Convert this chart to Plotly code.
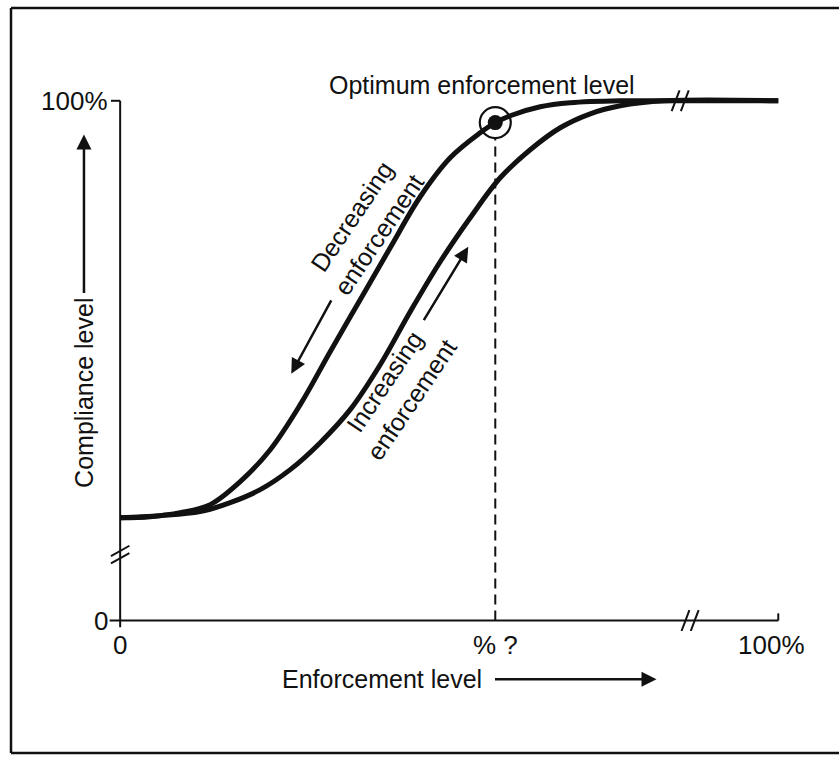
import plotly.graph_objects as go

# ---------------- data ----------------
# Decreasing-enforcement curve (upper)
upper_x = [0.0, 4.56, 9.12, 13.68, 18.24, 22.80, 27.36, 31.91, 36.47, 41.03, 45.59, 50.15, 54.71,
           57.0, 59.27, 63.83, 68.39, 75.99, 82.07, 100.0]
upper_y = [19.81, 20.0, 20.77, 22.31, 26.73, 32.88, 41.54, 51.73, 61.73, 71.73, 81.54, 89.04, 93.85,
           95.8, 97.12, 98.85, 99.62, 100.0, 100.0, 100.0]
# Increasing-enforcement curve (lower)
lower_x = [0.0, 6.08, 12.16, 16.72, 21.28, 25.84, 30.40, 34.95, 39.51, 44.07, 48.63, 53.19, 57.75,
           62.31, 66.87, 71.43, 75.99, 82.83, 100.0]
lower_y = [19.81, 20.19, 20.96, 22.69, 25.19, 29.04, 34.23, 40.58, 49.23, 59.42, 69.04, 77.50, 85.19,
           90.58, 94.81, 97.50, 99.04, 100.0, 100.0]

optimum_x = 57.0
optimum_y = 95.8

x_tick_vals = [0, optimum_x, 99]
x_tick_text = ["0", "% ?", "100%"]
y_tick_vals = [0, 100]
y_tick_text = ["0", "100%"]

y_break = 12.7
x_break = 86.6
top_break = 85.1

FONT = "Liberation Sans, Arial, Helvetica, sans-serif"
INK = "#111111"

# plot-area geometry
W, H = 839, 758
ML, MR, MT, MB = 107, 41, 80, 127
XR = [-2, 103]
YR = [-2, 104]
PW = W - ML - MR
PH = H - MT - MB


def dp(x, y):
    """data -> paper coordinates (for marks placed outside the axis ranges)"""
    return (x - XR[0]) / (XR[1] - XR[0]), (y - YR[0]) / (YR[1] - YR[0])


def px_to_paper(px, py):
    return (px - ML) / PW, (H - MB - py) / PH


fig = go.Figure()

curve_line = dict(color=INK, width=5, shape="spline", smoothing=1.0)
fig.add_trace(go.Scatter(x=upper_x, y=upper_y, mode="lines", line=curve_line,
                         hoverinfo="skip", cliponaxis=False))
fig.add_trace(go.Scatter(x=lower_x, y=lower_y, mode="lines", line=curve_line,
                         hoverinfo="skip", cliponaxis=False))

# dashed drop line from the optimum
fig.add_trace(go.Scatter(x=[optimum_x, optimum_x], y=[0, optimum_y - 3.0], mode="lines",
                         line=dict(color=INK, width=2, dash="10px,6px"), hoverinfo="skip"))

# optimum marker
fig.add_trace(go.Scatter(x=[optimum_x], y=[optimum_y], mode="markers",
                         marker=dict(symbol="circle", size=15, color=INK), hoverinfo="skip",
                         cliponaxis=False))
fig.add_trace(go.Scatter(x=[optimum_x], y=[optimum_y], mode="markers",
                         marker=dict(symbol="circle-open", size=31, color=INK, line=dict(width=2.2)),
                         hoverinfo="skip", cliponaxis=False))

shapes = []
ax_line = dict(color=INK, width=2)
# axes
shapes.append(dict(type="line", xref="x", yref="y", x0=0, y0=-1.3, x1=0, y1=100, line=ax_line))
shapes.append(dict(type="line", xref="x", yref="y", x0=-1.6, y0=0, x1=100, y1=0, line=ax_line))
# tick at the top of the y axis
shapes.append(dict(type="line", xref="x", yref="y", x0=-1.4, y0=100, x1=0, y1=100, line=ax_line))
# small upward end tick on the x axis
shapes.append(dict(type="line", xref="x", yref="y", x0=100, y0=0, x1=100, y1=1.4, line=ax_line))

# break marks
for off in (-0.7, 0.7):
    shapes.append(dict(type="line", xref="x", yref="y",
                       x0=-1.4, y0=y_break + off - 1.0, x1=1.4, y1=y_break + off + 1.0, line=ax_line))
for bx, by in ((x_break, 0), (top_break, 100)):
    for off in (-0.7, 0.7):
        shapes.append(dict(type="line", xref="x", yref="y",
                           x0=bx + off - 0.6, y0=by - 2.0, x1=bx + off + 0.6, y1=by + 2.0,
                           line=ax_line))

# outer frame of the scanned figure (left, top, bottom edges; right edge is cropped away)
fx0, fy0 = px_to_paper(11, 753)
fx1, fy1 = px_to_paper(900, 8)
frame_line = dict(color=INK, width=2.5)
shapes.append(dict(type="line", xref="paper", yref="paper", x0=fx0, y0=fy0, x1=fx0, y1=fy1, line=frame_line))
shapes.append(dict(type="line", xref="paper", yref="paper", x0=fx0, y0=fy1, x1=fx1, y1=fy1, line=frame_line))
shapes.append(dict(type="line", xref="paper", yref="paper", x0=fx0, y0=fy0, x1=fx1, y1=fy0, line=frame_line))

annotations = []
tf = dict(family=FONT, size=26, color=INK)
for v, t in zip(x_tick_vals, x_tick_text):
    px, py = dp(v, -4.6)
    annotations.append(dict(x=px, y=py, xref="paper", yref="paper", text=t, showarrow=False,
                            xanchor="center", yanchor="middle", font=tf))
for v, t in zip(y_tick_vals, y_tick_text):
    px, py = dp(-1.5, v)
    annotations.append(dict(x=px, y=py, xref="paper", yref="paper", text=t, showarrow=False,
                            xanchor="right", yanchor="middle", font=tf))

lf = dict(family=FONT, size=25, color=INK)
arrow_style = dict(text="", showarrow=True, arrowhead=2, arrowsize=1.2, arrowwidth=2.5,
                   arrowcolor=INK, xref="paper", yref="paper", axref="pixel", ayref="pixel")

# x axis title + arrow
tx, ty = dp(39.8, -11.3)
annotations.append(dict(x=tx, y=ty, xref="paper", yref="paper", text="Enforcement level",
                        showarrow=False, xanchor="center", yanchor="middle", font=lf))
hx, hy = dp(81.5, -11.3)
annotations.append(dict(x=hx, y=hy, ax=-163, ay=0, **arrow_style))

# y axis title + arrow
tx, ty = dp(-5.5, 43.8)
annotations.append(dict(x=tx, y=ty, xref="paper", yref="paper", text="Compliance level",
                        showarrow=False, textangle=-90, xanchor="center", yanchor="middle", font=lf))
hx, hy = dp(-5.5, 93.5)
annotations.append(dict(x=hx, y=hy, ax=0, ay=160, **arrow_style))

# optimum label
annotations.append(dict(x=55.0, y=103.0, xref="x", yref="y", text="Optimum enforcement level",
                        showarrow=False, xanchor="center", yanchor="middle", font=lf))
# curve labels
annotations.append(dict(x=37.3, y=76.0, xref="x", yref="y", text="Decreasing<br>enforcement",
                        showarrow=False, textangle=-56, font=lf, align="center"))
annotations.append(dict(x=26.0, y=47.5, ax=32.2, ay=61.9, xref="x", yref="y", axref="x", ayref="y",
                        text="", showarrow=True, arrowhead=2, arrowsize=1.2, arrowwidth=2.5,
                        arrowcolor=INK))
annotations.append(dict(x=42.3, y=44.2, xref="x", yref="y", text="Increasing<br>enforcement",
                        showarrow=False, textangle=-56, font=lf, align="center"))
annotations.append(dict(x=52.9, y=71.9, ax=46.0, ay=57.5, xref="x", yref="y", axref="x", ayref="y",
                        text="", showarrow=True, arrowhead=2, arrowsize=1.2, arrowwidth=2.5,
                        arrowcolor=INK))

fig.update_layout(
    width=W, height=H,
    margin=dict(l=ML, r=MR, t=MT, b=MB),
    paper_bgcolor="white", plot_bgcolor="white",
    showlegend=False,
    xaxis=dict(range=XR, visible=False, fixedrange=True),
    yaxis=dict(range=YR, visible=False, fixedrange=True),
    shapes=shapes,
    annotations=annotations,
    font=dict(family=FONT, color=INK),
)

fig.write_html("out.html", config={"displayModeBar": False},
               post_script="document.body.style.margin='0';document.body.style.overflow='hidden';")
